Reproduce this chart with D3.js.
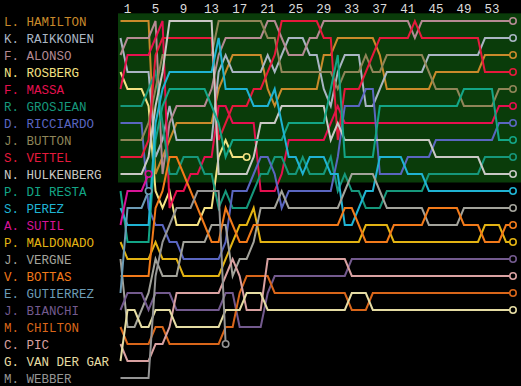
<!DOCTYPE html>
<html>
<head>
<meta charset="utf-8">
<script src="https://cdn.jsdelivr.net/npm/d3@7"></script>
<style>
  body { margin: 0; background: #000; }
  svg { display: block; }
  text { font-family: "Liberation Mono", "DejaVu Sans Mono", monospace; }
</style>
</head>
<body>
<div id="chart"></div>
<script>
var svgWidth = 521;
var svgHeight = 386;
var totalLaps = 56;

var drivers = ["L. HAMILTON", "K. RAIKKONEN", "F. ALONSO", "N. ROSBERG", "F. MASSA",
  "R. GROSJEAN", "D. RICCIARDO", "J. BUTTON", "S. VETTEL", "N. HULKENBERG",
  "P. DI RESTA", "S. PEREZ", "A. SUTIL", "P. MALDONADO", "J. VERGNE", "V. BOTTAS",
  "E. GUTIERREZ", "J. BIANCHI", "M. CHILTON", "C. PIC", "G. VAN DER GAR", "M. WEBBER"];

var colours = ["#c98a2b", "#a9b5c3", "#b48a93", "#f3e183", "#e5104f",
  "#16977b", "#5a66c0", "#8f8558", "#e51a3c", "#c8c8c4",
  "#13a586", "#1fb3d3", "#d71497", "#e3b313", "#a3a39b", "#f27a1a",
  "#6c9bb5", "#735a8e", "#d9661a", "#d9a1a1", "#e5dca3", "#959595"];

var lapTicks = [1, 5, 9, 13, 17, 21, 25, 29, 33, 37, 41, 45, 49, 53];

// position at the end of each lap, lap 0 = grid
var hamilton = [1,1,1,1,1,10,9,8,7,7, 7,7,7,7,5,4,3,3,3,3, 3,5,6,5,5,5,5,5,5,3,
  3,2,2,2,2,2,2,3,5,5, 5,5,5,5,5,4,4,4,4,4, 4,4,3,3,3,3,3];
var raikkonen = [2,4,4,4,4,9,8,6,8,8, 8,8,8,8,4,3,4,4,4,4, 4,3,4,3,2,2,2,3,3,5,
  6,4,3,3,3,6,6,5,4,4, 4,4,4,4,3,3,3,3,3,3, 3,3,2,2,2,2,2];
var alonso = [3,2,2,2,2,1,10,7,6,6, 6,6,6,5,3,2,2,2,2,2, 2,1,1,2,3,3,3,2,2,1,
  1,1,1,1,1,1,1,1,1,1, 1,1,2,1,1,1,1,1,1,1, 1,1,1,1,1,1,1];
var rosberg = [4,5,5,5,6,11,12,11,13,13, 13,13,12,12,9,8,9,9,9];
var massa = [5,3,3,3,3,2,1,12,11,11, 10,10,9,9,6,6,7,7,7,7, 11,11,11,10,8,8,8,8,8,8,
  7,6,7,7,7,7,7,7,7,7, 7,7,7,7,7,7,7,7,7,7, 7,7,7,7,6,6,6];
var grosjean = [6,6,6,6,5,4,7,10,10,9, 9,9,10,10,12,11,12,12,12,11, 10,10,9,9,10,10,9,10,10,10,
  9,11,10,11,11,12,12,12,11,11, 11,11,11,11,10,10,10,10,10,10, 10,10,9,9,9,9,9];
var ricciardo = [7,7,7,7,12,13,13,14,14,15, 15,15,15,15,15,14,11,11,11,10, 9,9,10,12,11,11,11,11,11,11,
  11,9,6,6,6,5,5,10,10,10, 10,9,9,9,9,8,8,8,8,8, 8,8,8,8,7,7,7];
var button = [8,8,8,8,7,5,3,3,3,3, 3,3,3,3,1,1,1,1,1,1, 1,2,2,4,4,4,4,4,4,4,
  4,5,4,4,4,3,4,4,3,3, 3,3,3,3,4,5,5,5,5,6, 6,6,6,6,5,5,5];
var vettel = [9,9,9,9,8,3,2,2,2,2, 2,2,2,2,8,7,6,6,6,5, 5,4,3,1,1,1,1,1,1,2,
  2,8,5,5,5,4,3,2,2,2, 2,2,1,2,2,2,2,2,2,2, 2,2,4,4,4,4,4];
var hulkenberg = [10,10,10,10,9,6,4,1,1,1, 1,1,1,1,10,10,10,10,10,9, 7,7,7,6,6,6,6,6,6,6,
  8,7,8,8,8,8,8,8,8,8, 8,8,8,8,8,9,9,9,9,9, 9,9,10,10,10,10,10];
var diResta = [11,14,14,14,14,8,6,5,5,5, 5,5,5,6,7,9,8,8,8,8, 8,8,8,8,7,7,7,7,7,7,
  5,3,9,9,9,9,9,6,6,6, 6,6,6,6,6,6,6,6,6,5, 5,5,5,5,8,8,8];
var perez = [12,13,13,13,13,7,5,4,4,4, 4,4,4,4,2,5,5,5,5,6, 6,6,5,7,9,9,10,9,9,9,
  10,10,13,13,12,11,11,9,9,9, 9,10,10,10,11,11,11,11,11,11, 11,11,11,11,11,11,11];
var sutil = [13,11,11,11,10];
var maldonado = [14,15,15,15,15,14,15,15,15,16, 16,16,16,16,16,15,14,13,13,12, 14,14,14,14,14,14,14,14,14,14,
  14,14,14,14,14,13,13,13,13,14, 14,14,14,14,14,14,14,14,14,14, 14,14,13,13,13,14,14];
var vergne = [15,19,19,18,17,15,16,16,16,14, 14,14,14,13,13,13,16,15,15,14, 12,12,12,11,12,12,12,12,12,12,
  12,12,11,10,10,10,10,11,12,12, 12,12,12,12,13,13,13,13,13,12, 12,12,12,12,12,12,12];
var bottas = [16,16,16,16,16,12,11,9,9,10, 11,12,13,14,14,12,13,14,14,13, 13,13,13,13,13,13,13,13,13,13,
  13,13,12,12,13,14,14,14,14,13, 13,13,13,13,12,12,12,12,12,13, 13,13,14,14,14,13,13];
var gutierrez = [17,12,12,12,11];
var bianchi = [18,17,17,17,18,17,17,17,18,18, 18,18,18,18,18,17,17,19,19,19, 19,17,16,16,16,16,16,16,16,16,
  16,16,16,15,15,15,15,15,15,15, 15,15,15,15,15,15,15,15,15,15, 15,15,15,15,15,15,15];
var chilton = [19,20,20,20,20,19,19,20,20,20, 20,20,20,20,20,19,19,17,16,16, 16,16,17,17,17,17,17,17,17,17,
  17,17,17,18,18,18,17,17,17,17, 17,17,17,17,17,17,17,17,17,17, 17,17,17,17,17,17,17];
var pic = [20,21,21,21,21,20,20,19,17,17, 17,17,17,17,17,16,15,16,18,18, 18,15,15,15,15,15,15,15,15,15,
  15,15,15,16,16,16,16,16,16,16, 16,16,16,16,16,16,16,16,16,16, 16,16,16,16,16,16,16];
var vanDerGarde = [21,18,18,19,19,18,18,18,19,19, 19,19,19,19,19,18,18,18,17,17, 17,18,18,18,18,18,18,18,18,18,
  18,18,18,17,17,17,18,18,18,18, 18,18,18,18,18,18,18,18,18,18, 18,18,18,18,18,18,18];
var webber = [22,22,22,22,22,16,14,13,12,12, 12,11,11,11,11,20];

var positions = [hamilton, raikkonen, alonso, rosberg, massa, grosjean, ricciardo, button,
  vettel, hulkenberg, diResta, perez, sutil, maldonado, vergne, bottas, gutierrez,
  bianchi, chilton, pic, vanDerGarde, webber];

var green = "#0a3c0a";

var svg = d3.select("#chart")
  .append("svg")
  .attr("width", svgWidth)
  .attr("height", svgHeight);

svg.append("rect")
  .attr("width", svgWidth)
  .attr("height", svgHeight)
  .attr("fill", "#000");

var x = d3.scaleLinear().domain([0, totalLaps]).range([120.5, 513]);
var y = d3.scaleLinear().domain([1, 22]).range([21, 378]);

// points zone (top ten)
svg.append("rect")
  .attr("x", 118)
  .attr("y", y(0.55))
  .attr("width", svgWidth - 118)
  .attr("height", y(10.5) - y(0.55))
  .attr("fill", green);

// lap numbers along the top
svg.append("g")
  .selectAll("text")
  .data(lapTicks)
  .enter()
  .append("text")
  .attr("x", d => x(d))
  .attr("y", 12.5)
  .attr("text-anchor", "middle")
  .attr("fill", "#dcdcdc")
  .style("font-size", "12.5px")
  .text(d => d);

// driver names in grid order
svg.append("g")
  .selectAll("text")
  .data(drivers)
  .enter()
  .append("text")
  .attr("x", 4)
  .attr("y", (d, i) => y(i + 1) + 5)
  .attr("fill", (d, i) => colours[i])
  .style("font-size", "12.5px")
  .text(d => d);

var line = d3.line()
  .x((d, i) => x(i))
  .y(d => y(d));

var series = positions.map((p, i) => ({ name: drivers[i], colour: colours[i], pos: p }));

svg.append("g")
  .selectAll("path")
  .data(series)
  .enter()
  .append("path")
  .attr("d", d => line(d.pos))
  .attr("fill", "none")
  .attr("stroke", d => d.colour)
  .attr("stroke-width", 2)
  .attr("stroke-linejoin", "miter");

// end of race / retirement markers
svg.append("g")
  .selectAll("circle")
  .data(series)
  .enter()
  .append("circle")
  .attr("cx", d => x(d.pos.length - 1))
  .attr("cy", d => y(d.pos[d.pos.length - 1]))
  .attr("r", 3.2)
  .attr("fill", d => d.pos[d.pos.length - 1] <= 10 ? green : "#000")
  .attr("stroke", d => d.colour)
  .attr("stroke-width", 1.6);
</script>
</body>
</html>
